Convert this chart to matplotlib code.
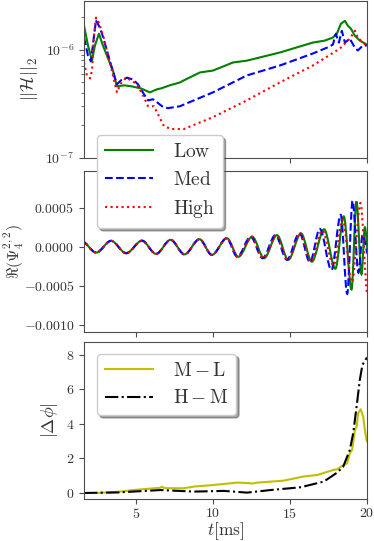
import numpy as np
import matplotlib
matplotlib.use("Agg")
import matplotlib.pyplot as plt
from matplotlib.path import Path
from matplotlib.patches import PathPatch
from matplotlib.ticker import FuncFormatter

# -----------------------------
# data
# -----------------------------
# top panel: ||H||_2 (constraint norm)
t_low = [1.62, 1.88, 2.14, 2.33, 2.59, 2.85, 3.18, 3.50, 3.76, 4.22, 4.74, 5.32, 5.90, 6.36,
         6.62, 7.20, 7.85, 8.11, 9.15, 10.0, 11.3, 12.2, 14.35, 16.49, 17.27, 17.79, 18.05,
         18.31, 18.57, 18.76, 18.96, 19.22, 19.54, 20.0]
h_low = [1.66e-6, 1.09e-6, 7.9e-7, 1.09e-6, 1.40e-6, 1.09e-6, 8.3e-7, 6.4e-7, 4.57e-7, 4.68e-7,
         4.57e-7, 4.38e-7, 4.03e-7, 4.3e-7, 4.38e-7, 4.68e-7, 4.97e-7, 5.2e-7, 6.15e-7, 6.4e-7,
         7.6e-7, 7.9e-7, 9.4e-7, 1.16e-6, 1.21e-6, 1.29e-6, 1.4e-6, 1.73e-6, 1.84e-6, 1.66e-6,
         1.56e-6, 1.34e-6, 1.21e-6, 1.11e-6]

t_med = [1.62, 1.88, 2.07, 2.27, 2.40, 2.59, 2.79, 3.11, 3.44, 3.76, 4.02, 4.41, 4.80, 5.13,
         5.52, 5.78, 6.10, 6.36, 6.69, 7.07, 7.85, 10.0, 12.2, 14.35, 16.49, 17.40, 17.79,
         17.98, 18.18, 18.37, 18.57, 18.89, 19.22, 19.41, 19.74, 20.0]
h_med = [1.29e-6, 8.8e-7, 7.76e-7, 1.34e-6, 1.85e-6, 1.66e-6, 1.4e-6, 9.8e-7, 6.7e-7, 4.78e-7,
         5.2e-7, 5.5e-7, 5.3e-7, 4.78e-7, 3.86e-7, 3.4e-7, 3.48e-7, 3.27e-7, 3.0e-7, 2.88e-7,
         3.0e-7, 4.03e-7, 5.77e-7, 7.13e-7, 9.2e-7, 1.04e-6, 1.11e-6, 1.4e-6, 1.16e-6, 1.49e-6,
         1.16e-6, 1.26e-6, 1.04e-6, 9.8e-7, 1.09e-6, 1.09e-6]

t_high = [1.62, 1.81, 2.01, 2.14, 2.27, 2.40, 2.59, 2.92, 3.18, 3.37, 3.57, 3.76, 4.02, 4.35,
          4.67, 5.06, 5.52, 5.78, 6.17, 6.49, 6.81, 7.27, 8.11, 10.0, 12.2, 14.35, 16.49,
          18.24, 18.89, 19.22, 19.41, 19.74, 20.0]
h_high = [7.6e-7, 5.77e-7, 5.42e-7, 6.4e-7, 1.34e-6, 1.97e-6, 1.77e-6, 1.26e-6, 8.8e-7, 7.0e-7,
          5.2e-7, 4.03e-7, 4.88e-7, 5.5e-7, 5.2e-7, 4.78e-7, 3.63e-7, 3.0e-7, 3.0e-7, 2.43e-7,
          1.97e-7, 1.85e-7, 1.85e-7, 2.38e-7, 3.4e-7, 4.98e-7, 7.13e-7, 1.02e-6, 1.26e-6,
          1.49e-6, 1.29e-6, 1.16e-6, 1.09e-6]

# middle panel: extrema (time, value) of Re(Psi4^{2,2})
ext_t_low = [1.45, 2.41, 3.38, 4.36, 5.39, 6.30, 7.25, 8.15, 9.12, 9.93, 10.91, 11.65, 12.55,
             13.32, 14.16, 14.89, 15.72, 16.42, 17.22, 17.95, 18.50, 19.00, 19.32, 19.65,
             19.87, 20.10]
ext_v_low = [7.5e-5, -7.3e-5, 7.7e-5, -8.1e-5, 7.9e-5, -9.0e-5, 9.0e-5, -9.6e-5, 9.8e-5,
             -1.03e-4, 1.1e-4, -1.27e-4, 1.3e-4, -1.45e-4, 1.5e-4, -1.65e-4, 1.72e-4, -1.9e-4,
             2.25e-4, -2.8e-4, 3.9e-4, -5.45e-4, 5.8e-4, -3.5e-4, 2.5e-4, -1.0e-4]

ext_t_med = [1.45, 2.41, 3.38, 4.36, 5.39, 6.30, 7.25, 8.15, 9.12, 9.93, 10.88, 11.58, 12.45,
             13.22, 14.06, 14.80, 15.62, 16.30, 16.94, 17.70, 18.30, 18.72, 19.07, 19.45,
             19.72, 20.10]
ext_v_med = [7.5e-5, -7.3e-5, 7.7e-5, -8.1e-5, 7.9e-5, -9.0e-5, 9.0e-5, -9.6e-5, 9.8e-5,
             -1.03e-4, 1.1e-4, -1.27e-4, 1.3e-4, -1.45e-4, 1.5e-4, -1.65e-4, 1.75e-4, -1.95e-4,
             2.3e-4, -2.95e-4, 4.1e-4, -6.0e-4, 5.9e-4, -3.3e-4, 1.5e-4, -1.0e-4]

ext_t_high = [1.45, 2.41, 3.38, 4.36, 5.39, 6.30, 7.25, 8.15, 9.12, 9.93, 10.90, 11.62, 12.50,
              13.27, 14.12, 14.85, 15.68, 16.36, 17.10, 17.83, 18.42, 19.03, 19.58, 20.05]
ext_v_high = [7.5e-5, -7.3e-5, 7.7e-5, -8.1e-5, 7.9e-5, -9.0e-5, 9.0e-5, -9.6e-5, 9.8e-5,
              -1.03e-4, 1.1e-4, -1.27e-4, 1.3e-4, -1.45e-4, 1.5e-4, -1.65e-4, 1.72e-4, -1.9e-4,
              2.1e-4, -2.4e-4, 3.5e-4, -4.5e-4, 5.6e-4, -6.2e-4]

# bottom panel: phase differences
t_ml = [2.44, 4.0, 4.82, 6.56, 6.70, 6.85, 8.07, 8.76, 10.0, 11.57, 11.75, 12.6, 12.87, 14.56,
        15.86, 16.77, 17.81, 18.07, 18.46, 18.72, 18.89, 19.04, 19.22, 19.33, 19.43, 19.59,
        19.76, 19.87, 19.97, 20.0]
d_ml = [0.0, 0.08, 0.17, 0.30, 0.36, 0.28, 0.27, 0.37, 0.46, 0.60, 0.60, 0.55, 0.60, 0.71,
        0.95, 1.04, 1.33, 1.37, 1.62, 1.72, 2.3, 2.5, 3.65, 3.84, 4.62, 4.85, 4.42, 3.65,
        3.1, 3.0]

t_hm = [1.62, 3.8, 6.6, 8.76, 10.71, 12.22, 13.74, 15.69, 17.2, 18.07, 18.46, 18.89, 19.11,
        19.33, 19.54, 19.71, 19.97, 20.0]
d_hm = [0.0, 0.03, 0.17, 0.08, 0.12, 0.02, 0.17, 0.33, 0.66, 1.18, 1.52, 2.49, 3.46, 5.0,
        6.55, 7.42, 7.8, 7.85]

plt.rcParams["font.family"] = "serif"
plt.rcParams["font.serif"] = ["cmr10", "DejaVu Serif"]
plt.rcParams["mathtext.fontset"] = "cm"
plt.rcParams["axes.formatter.use_mathtext"] = True
plt.rcParams["axes.edgecolor"] = "0.3"
plt.rcParams["xtick.color"] = "0.3"
plt.rcParams["ytick.color"] = "0.3"
plt.rcParams["xtick.labelcolor"] = "0.2"
plt.rcParams["ytick.labelcolor"] = "0.2"
plt.rcParams["text.color"] = "0.2"
plt.rcParams["axes.labelcolor"] = "0.2"


def wave_path(ts, vs):
    # smooth curve through the extrema, horizontal tangent at each one
    verts = [(ts[0], vs[0])]
    codes = [Path.MOVETO]
    for i in range(len(ts) - 1):
        dt = ts[i + 1] - ts[i]
        verts += [(ts[i] + dt / 3, vs[i]), (ts[i + 1] - dt / 3, vs[i + 1]), (ts[i + 1], vs[i + 1])]
        codes += [Path.CURVE4] * 3
    return Path(verts, codes)


fig = plt.figure(figsize=(3.74, 5.41), dpi=100)
L, W = 0.2246, 0.7564
ax1 = fig.add_axes([L, 0.708, W, 0.290])
ax2 = fig.add_axes([L, 0.386, W, 0.298])
ax3 = fig.add_axes([L, 0.0776, W, 0.2904])
ax1.set_zorder(5)  # legend of the top panel hangs over the middle one

xt = [5, 10, 15, 20]
for ax in (ax1, ax2, ax3):
    ax.set_xlim(1.62, 20)
    ax.set_xticks(xt)
    ax.tick_params(labelsize=10)
    ax.tick_params(axis="x", pad=2)

# -----------------------------
# panel 1
# -----------------------------
ax1.semilogy(t_low, h_low, color="g", lw=1.5, label=r"$\mathrm{Low}$")
ax1.semilogy(t_med, h_med, color="b", lw=1.5, ls="--", label=r"$\mathrm{Med}$")
ax1.semilogy(t_high, h_high, color="r", lw=1.5, ls=":", label=r"$\mathrm{High}$")
ax1.set_ylim(1e-7, 2.8e-6)
ax1.set_ylabel(r"$||\mathcal{H}||_2$", fontsize=13)
ax1.set_xticklabels([])
leg = ax1.legend(loc="upper left", bbox_to_anchor=(0.046, 0.146), borderaxespad=0,
                 fontsize=14, handlelength=2.5, handletextpad=1.0, fancybox=True,
                 shadow=True, framealpha=1)

# -----------------------------
# panel 2
# -----------------------------
for ts, vs, c, ls in [(ext_t_low, ext_v_low, "g", "-"),
                      (ext_t_med, ext_v_med, "b", "--"),
                      (ext_t_high, ext_v_high, "r", ":")]:
    ax2.add_patch(PathPatch(wave_path(ts, vs), fill=False, edgecolor=c, lw=1.5, ls=ls))
ax2.set_ylim(-0.00109, 0.00097)
ax2.set_yticks([-0.001, -0.0005, 0, 0.0005])
ax2.yaxis.set_major_formatter(FuncFormatter(lambda v, p: r"$%.4f$" % v))
ax2.set_ylabel(r"$\Re(\Psi_4^{2,2})$", fontsize=11.5)
ax2.yaxis.set_label_coords(-0.205, 0.5)
ax2.set_xticklabels([])

# -----------------------------
# panel 3
# -----------------------------
ax3.plot(t_ml, d_ml, color="y", lw=1.5, label=r"$\mathrm{M-L}$")
ax3.plot(t_hm, d_hm, color="k", lw=1.5, ls="-.", label=r"$\mathrm{H-M}$")
ax3.set_ylim(-0.35, 8.75)
ax3.set_yticks([0, 2, 4, 6, 8])
ax3.yaxis.set_major_formatter(FuncFormatter(lambda v, p: r"$%d$" % v))
ax3.xaxis.set_major_formatter(FuncFormatter(lambda v, p: r"$%d$" % v))
ax3.set_ylabel(r"$|\Delta\phi|$", fontsize=13)
ax3.set_xlabel(r"$t[\mathrm{ms}]$", fontsize=12.5, labelpad=0)
ax3.legend(loc="upper left", bbox_to_anchor=(0.046, 0.924), borderaxespad=0,
           fontsize=14, handlelength=2.5, handletextpad=1.0, fancybox=True,
           shadow=True, framealpha=1)

fig.savefig("out.png", dpi=100)
